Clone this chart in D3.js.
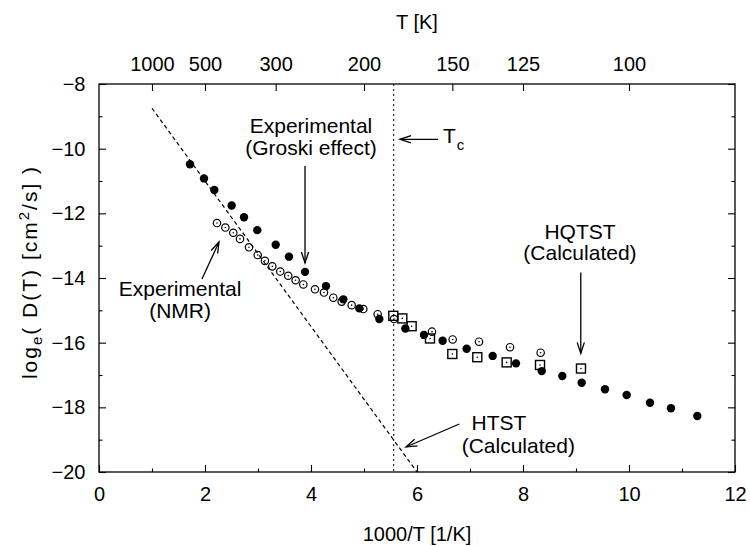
<!DOCTYPE html>
<html>
<head>
<meta charset="utf-8">
<script src="https://cdn.jsdelivr.net/npm/d3@7"></script>
<style>
  html, body { margin: 0; padding: 0; background: #fff; }
  svg text { font-family: "Liberation Sans", Arial, Helvetica, sans-serif; fill: #000; }
</style>
</head>
<body>
<svg id="chart" width="750" height="546"></svg>
<script>
// Diffusion data: x = 1000/T [1/K], y = log_e D(T) [cm^2/s]

// Experimental (Groski effect) – filled circles
const groskiX = [1.717, 1.981, 2.176, 2.503, 2.736, 2.987, 3.334, 3.585, 3.887, 4.283, 4.61, 4.912, 5.289,
                 5.78, 6.132, 6.484, 6.937, 7.428, 7.868, 8.353, 8.742, 9.107, 9.547, 9.956, 10.396, 10.792, 11.289];
const groskiY = [-10.48, -10.92, -11.28, -11.76, -12.12, -12.52, -12.97, -13.34, -13.81, -14.25, -14.66, -14.94, -15.27,
                 -15.56, -15.76, -15.94, -16.19, -16.41, -16.64, -16.88, -17.03, -17.24, -17.44, -17.62, -17.86, -18.03, -18.27];

// Experimental (NMR) – open circles with centre dot
const nmrX = [2.226, 2.384, 2.534, 2.660, 2.830, 2.994, 3.13, 3.27, 3.42, 3.57, 3.71, 3.855, 4.075, 4.245,
              4.421, 4.579, 4.767, 4.987, 5.258, 5.566, 6.283, 6.673, 7.17, 7.755, 8.333];
const nmrY = [-12.30, -12.44, -12.60, -12.79, -13.05, -13.29, -13.47, -13.64, -13.80, -13.93, -14.07, -14.20, -14.35, -14.45,
              -14.61, -14.73, -14.84, -14.96, -15.12, -15.27, -15.66, -15.90, -15.97, -16.14, -16.31];

// HQTST (calculated) – open squares with centre dot
const hqtstX = [5.553, 5.723, 5.899, 6.245, 6.666, 7.138, 7.692, 8.321, 9.094];
const hqtstY = [-15.17, -15.25, -15.49, -15.87, -16.35, -16.45, -16.61, -16.69, -16.80];

// HTST (calculated) – straight Arrhenius line
const htstX = [1.0, 6.0];
const htstY = [-8.75, -20.0];

// Critical temperature position on the 1000/T axis
const tcX = 5.56;

// Axis ticks
const xMajorTicks = [0, 2, 4, 6, 8, 10, 12];
const xMinorTicks = [1, 3, 5, 7, 9, 11];
const yMajorTicks = [-20, -18, -16, -14, -12, -10, -8];
const yMinorTicks = [-19, -17, -15, -13, -11, -9];
const topTempTicks = [1000, 500, 300, 200, 150, 125, 100];

// ---------------------------------------------------------------------------
const svg = d3.select("#chart");
const pL = 99, pR = 735, pT = 84, pB = 472;
const x = d3.scaleLinear().domain([0, 12]).range([pL, pR]);
const y = d3.scaleLinear().domain([-20, -8]).range([pB, pT]);

const FS = 20;      // tick / title font size
const AFS = 21;     // annotation font size
const majorLen = 7, minorLen = 3.5;

function styleAxis(g, labels) {
  g.attr("font-family", null);
  g.select(".domain").remove();
  g.selectAll(".tick line").attr("stroke", "#000").attr("stroke-width", 1.1);
  if (labels) g.selectAll(".tick text").attr("font-size", FS).attr("fill", "#000");
  else g.selectAll(".tick text").remove();
}

// Bottom axis
svg.append("g").attr("transform", `translate(0,${pB})`)
  .call(d3.axisBottom(x).tickValues(xMajorTicks).tickSizeInner(-majorLen).tickSizeOuter(0).tickPadding(15).tickFormat(d3.format("d")))
  .call(g => styleAxis(g, true));
svg.append("g").attr("transform", `translate(0,${pB})`)
  .call(d3.axisBottom(x).tickValues(xMinorTicks).tickSizeInner(-minorLen).tickSizeOuter(0))
  .call(g => styleAxis(g, false));

// Left axis
svg.append("g").attr("transform", `translate(${pL},0)`)
  .call(d3.axisLeft(y).tickValues(yMajorTicks).tickSizeInner(-majorLen).tickSizeOuter(0).tickPadding(13.5).tickFormat(d3.format("d")))
  .call(g => styleAxis(g, true));
svg.append("g").attr("transform", `translate(${pL},0)`)
  .call(d3.axisLeft(y).tickValues(yMinorTicks).tickSizeInner(-minorLen).tickSizeOuter(0))
  .call(g => styleAxis(g, false));

// Right axis (ticks only)
svg.append("g").attr("transform", `translate(${pR},0)`)
  .call(d3.axisRight(y).tickValues(yMajorTicks).tickSizeInner(-majorLen).tickSizeOuter(0))
  .call(g => styleAxis(g, false));
svg.append("g").attr("transform", `translate(${pR},0)`)
  .call(d3.axisRight(y).tickValues(yMinorTicks).tickSizeInner(-minorLen).tickSizeOuter(0))
  .call(g => styleAxis(g, false));

// Top axis: temperature in K placed at 1000/T
svg.append("g").attr("transform", `translate(0,${pT})`)
  .call(d3.axisTop(x).tickValues(topTempTicks.map(t => 1000 / t)).tickSizeInner(-majorLen).tickSizeOuter(0)
        .tickPadding(13.5).tickFormat(v => String(Math.round(1000 / v))))
  .call(g => styleAxis(g, true));

// Frame
svg.append("rect").attr("x", pL).attr("y", pT).attr("width", pR - pL).attr("height", pB - pT)
  .attr("fill", "none").attr("stroke", "#000").attr("stroke-width", 1.3);

// Axis titles
svg.append("text").attr("x", (pL + pR) / 2).attr("y", 541).attr("text-anchor", "middle")
  .attr("font-size", FS).text("1000/T [1/K]");
svg.append("text").attr("x", (pL + pR) / 2).attr("y", 29).attr("text-anchor", "middle")
  .attr("font-size", FS).text("T [K]");

const yTitle = svg.append("text").attr("transform", `translate(37,272) rotate(-90)`)
  .attr("text-anchor", "middle").attr("font-size", 21).attr("letter-spacing", 2);
yTitle.append("tspan").text("log");
yTitle.append("tspan").attr("font-size", 15).attr("dy", 5).text("e");
yTitle.append("tspan").attr("dy", -5).text("( D(T) [cm");
yTitle.append("tspan").attr("font-size", 15).attr("dy", -8).text("2");
yTitle.append("tspan").attr("dy", 8).text("/s] )");

// Tc dotted line
svg.append("line").attr("x1", x(tcX)).attr("x2", x(tcX)).attr("y1", pT).attr("y2", pB)
  .attr("stroke", "#000").attr("stroke-width", 1).attr("stroke-dasharray", "2,3");

// HTST dashed line
const line = d3.line().x(d => x(d[0])).y(d => y(d[1]));
svg.append("path").datum(d3.zip(htstX, htstY)).attr("d", line)
  .attr("fill", "none").attr("stroke", "#000").attr("stroke-width", 1.2).attr("stroke-dasharray", "4,3");

// Markers
const nmr = d3.zip(nmrX, nmrY), groski = d3.zip(groskiX, groskiY), hq = d3.zip(hqtstX, hqtstY);

const gN = svg.append("g");
gN.selectAll("circle.o").data(nmr).join("circle").attr("class", "o")
  .attr("cx", d => x(d[0])).attr("cy", d => y(d[1])).attr("r", 3.7)
  .attr("fill", "none").attr("stroke", "#000").attr("stroke-width", 1.2);
gN.selectAll("circle.c").data(nmr).join("circle").attr("class", "c")
  .attr("cx", d => x(d[0])).attr("cy", d => y(d[1])).attr("r", 0.8).attr("fill", "#000");

svg.append("g").selectAll("circle").data(groski).join("circle")
  .attr("cx", d => x(d[0])).attr("cy", d => y(d[1])).attr("r", 4.2).attr("fill", "#000");

const gQ = svg.append("g");
gQ.selectAll("rect").data(hq).join("rect")
  .attr("x", d => x(d[0]) - 4.5).attr("y", d => y(d[1]) - 4.5).attr("width", 9).attr("height", 9)
  .attr("fill", "none").attr("stroke", "#000").attr("stroke-width", 1.4);
gQ.selectAll("circle").data(hq).join("circle")
  .attr("cx", d => x(d[0])).attr("cy", d => y(d[1])).attr("r", 0.8).attr("fill", "#000");

// Arrows with open V heads
function arrow(x1, y1, x2, y2) {
  const X1 = x(x1), Y1 = y(y1), X2 = x(x2), Y2 = y(y2);
  const a = Math.atan2(Y2 - Y1, X2 - X1), L = 11, W = 3.6;
  const bx = X2 - L * Math.cos(a), by = Y2 - L * Math.sin(a);
  const px = -Math.sin(a) * W, py = Math.cos(a) * W;
  svg.append("line").attr("x1", X1).attr("y1", Y1).attr("x2", X2).attr("y2", Y2)
    .attr("stroke", "#000").attr("stroke-width", 1.3);
  svg.append("path").attr("d", `M${bx + px},${by + py}L${X2},${Y2}L${bx - px},${by - py}`)
    .attr("fill", "none").attr("stroke", "#000").attr("stroke-width", 1.3);
}
function label(xv, yv, txt, anchor) {
  return svg.append("text").attr("x", x(xv)).attr("y", y(yv)).attr("text-anchor", anchor || "middle")
    .attr("font-size", AFS).text(txt);
}

// Experimental (Groski effect)
label(4.0, -9.515, "Experimental");
label(4.0, -10.196, "(Groski effect)");
arrow(3.887, -10.536, 3.887, -13.536);

// T_c
arrow(6.396, -9.71, 5.679, -9.71);
const tc = svg.append("text").attr("x", x(6.49)).attr("y", y(-9.834)).attr("font-size", AFS);
tc.append("tspan").text("T");
tc.append("tspan").attr("font-size", 15).attr("dy", 7).attr("dx", 1).text("c");

// HQTST (Calculated)
label(9.075, -12.794, "HQTST");
label(9.075, -13.443, "(Calculated)");
arrow(9.09, -13.83, 9.09, -16.33);

// HTST (Calculated)
label(7.03, -18.70, "HTST", "start");
label(6.843, -19.41, "(Calculated)", "start");
arrow(6.798, -18.516, 5.792, -19.227);

// Experimental (NMR)
label(1.53, -14.57, "Experimental");
label(1.53, -15.25, "(NMR)");
arrow(1.943, -14.03, 2.264, -12.887);
</script>
</body>
</html>
